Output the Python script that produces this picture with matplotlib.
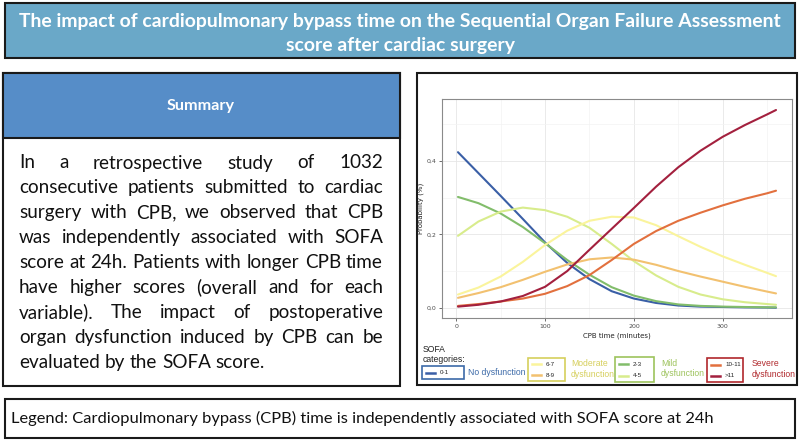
import matplotlib
matplotlib.use("Agg")
import matplotlib.pyplot as plt
from matplotlib.patches import Rectangle

# ---- data ----
cpb_time = [2, 25, 50, 75, 100, 125, 150, 175, 200, 225, 250, 275, 300, 325, 350, 360]
sofa_0_1 = [0.424, 0.367, 0.305, 0.242, 0.178, 0.122, 0.078, 0.045, 0.025, 0.013, 0.006, 0.003, 0.002, 0.001, 0.0005, 0.0]
sofa_2_3 = [0.302, 0.285, 0.257, 0.22, 0.176, 0.13, 0.09, 0.056, 0.033, 0.018, 0.009, 0.005, 0.003, 0.002, 0.001, 0.001]
sofa_4_5 = [0.196, 0.235, 0.262, 0.273, 0.266, 0.248, 0.218, 0.174, 0.127, 0.088, 0.057, 0.036, 0.023, 0.015, 0.010, 0.008]
sofa_6_7 = [0.036, 0.055, 0.085, 0.125, 0.171, 0.21, 0.237, 0.248, 0.246, 0.225, 0.195, 0.166, 0.14, 0.117, 0.095, 0.086]
sofa_8_9 = [0.027, 0.04, 0.056, 0.076, 0.098, 0.118, 0.132, 0.137, 0.131, 0.117, 0.10, 0.085, 0.071, 0.057, 0.044, 0.039]
sofa_10_11 = [0.005, 0.01, 0.017, 0.025, 0.038, 0.059, 0.089, 0.13, 0.174, 0.209, 0.237, 0.259, 0.279, 0.297, 0.312, 0.319]
sofa_gt11 = [0.003, 0.008, 0.017, 0.032, 0.057, 0.10, 0.158, 0.215, 0.272, 0.33, 0.383, 0.428, 0.466, 0.498, 0.527, 0.539]

categories = ["0-1", "2-3", "4-5", "6-7", "8-9", "10-11", ">11"]
series = [sofa_0_1, sofa_2_3, sofa_4_5, sofa_6_7, sofa_8_9, sofa_10_11, sofa_gt11]
line_colors = ["#3a5fa6", "#82bd6b", "#d8ec8c", "#faf49c", "#f2c170", "#e2703e", "#a3203e"]

x_ticks = [0, 100, 200, 300]
y_ticks = [0.0, 0.2, 0.4]
y_tick_labels = ["0,0", "0,2", "0,4"]

title_lines = ["The impact of cardiopulmonary bypass time on the Sequential Organ Failure Assessment",
               "score after cardiac surgery"]
summary_lines = ["In a retrospective study of 1032",
                 "consecutive patients submitted to cardiac",
                 "surgery with CPB, we observed that CPB",
                 "was independently associated with SOFA",
                 "score at 24h. Patients with longer CPB time",
                 "have higher scores (overall and for each",
                 "variable). The impact of postoperative",
                 "organ dysfunction induced by CPB can be",
                 "evaluated by the SOFA score."]
legend_line = "Legend: Cardiopulmonary bypass (CPB) time is independently associated with SOFA score at 24h"

W, H = 800, 442
fig = plt.figure(figsize=(8, 4.42), dpi=100)
bg = fig.add_axes([0, 0, 1, 1])
bg.set_xlim(0, W)
bg.set_ylim(H, 0)
bg.axis("off")
renderer = fig.canvas.get_renderer()


def width_of(t):
    return t.get_window_extent(renderer).width


def fit_text(x, y, s, target, **kw):
    t = bg.text(x, y, s, fontsize=10, **kw)
    t.set_fontsize(10 * target / width_of(t))
    return t


def box(x0, y0, x1, y1, fc, ec="#1a1a1a", lw=1.5):
    bg.add_patch(Rectangle((x0, y0), x1 - x0, y1 - y0, facecolor=fc, edgecolor=ec, lw=lw))


# title
box(5, 3, 795, 58, "#6aa8c8")
t1 = fit_text(400, 22, title_lines[0], 765, ha="center", va="center", color="white",
              family="Lato", weight="bold")
bg.text(400, 45, title_lines[1], ha="center", va="center", color="white",
        family="Lato", weight="bold", fontsize=t1.get_fontsize())

# summary panel
box(3, 73, 400, 386, "white")
box(3, 73, 400, 138, "#568dc8")
fit_text(201, 106, "Summary", 68, ha="center", va="center", color="white",
         family="Lato", weight="bold")

left, right = 19, 383
probe = [bg.text(0, 0, ln, fontsize=10, family="Lato") for ln in summary_lines[:-1]]
maxw = max(width_of(p) for p in probe)
for p in probe:
    p.remove()
fs = 10 * (right - left) / maxw * 0.99
sp1 = bg.text(0, 0, "a a", fontsize=fs, family="Lato")
sp2 = bg.text(0, 0, "aa", fontsize=fs, family="Lato")
space_w = width_of(sp1) - width_of(sp2)
sp1.remove()
sp2.remove()
y = 163
for i, ln in enumerate(summary_lines):
    words = ln.split()
    objs = [bg.text(0, y, w, fontsize=fs, family="Lato", va="center", color="#111111") for w in words]
    widths = [width_of(o) for o in objs]
    if i < len(summary_lines) - 1 and len(words) > 1:
        gap = (right - left - sum(widths)) / (len(words) - 1)
    else:
        gap = space_w
    xx = left
    for o, w in zip(objs, widths):
        o.set_x(xx)
        xx += w + gap
    y += 24.9

# chart panel
box(417, 73, 797, 385, "white")

# bottom legend box
box(5, 399, 795, 438, "white")
fit_text(11, 418, legend_line, 702, ha="left", va="center", color="#111111", family="Lato")

# ---- probability plot ----
ax = fig.add_axes([442 / W, 1 - 318 / H, 350 / W, 219 / H])
for vals, col in zip(series, line_colors):
    ax.plot(cpb_time, vals, color=col, lw=1.5, solid_capstyle="round", solid_joinstyle="round")
ax.set_xlim(-16, 378)
ax.set_ylim(-0.028, 0.569)
ax.set_xticks(x_ticks)
ax.set_xticks([50, 150, 250, 350], minor=True)
ax.set_yticks(y_ticks)
ax.set_yticklabels(y_tick_labels)
ax.set_yticks([0.1, 0.3, 0.5], minor=True)
ax.grid(which="major", color="#e6e6e6", lw=0.6)
ax.grid(which="minor", color="#f3f3f3", lw=0.5)
ax.set_axisbelow(True)
ax.tick_params(which="major", length=2, width=0.5, color="#333333", labelsize=4.5,
               labelcolor="#4d4d4d", pad=2)
ax.tick_params(which="minor", length=0)
for sp in ax.spines.values():
    sp.set_color("#8a8a8a")
    sp.set_linewidth(0.8)
ax.set_xlabel("CPB time (minutes)", fontsize=5, color="#222222", labelpad=3)
ax.set_ylabel("Probability (%)", fontsize=5, color="#222222", labelpad=1.5)

# ---- category legend (drawn in pixel space) ----
lf = "Liberation Sans"
bg.text(423, 350, "SOFA", fontsize=6.2, family=lf, va="center", color="#222222")
bg.text(423, 359.5, "categories:", fontsize=6.2, family=lf, va="center", color="#222222")

groups = [
    # box x0, x1, y0, y1, category indices, label, label colour, label x
    (422, 464, 366, 379, [0], ["No dysfunction"], "#3c6aa8", 468),
    (528, 565, 358, 381, [3, 4], ["Moderate", "dysfunction"], "#d6cf5c", 571),
    (615, 654, 357, 382, [1, 2], ["Mild", "dysfunction"], "#9dc35c", 661),
    (707, 743, 358, 382, [5, 6], ["Severe", "dysfunction"], "#b0282c", 752),
]
for x0, x1, y0, y1, idx, label, lcol, lx in groups:
    box(x0, y0, x1, y1, "white", ec=lcol, lw=1.2)
    n = len(idx)
    for k, ci in enumerate(idx):
        yy = (y0 + y1) / 2 if n == 1 else y0 + (y1 - y0) * (0.28 + 0.46 * k)
        bg.plot([x0 + 4, x0 + 13], [yy, yy], color=line_colors[ci], lw=1.8)
        bg.text(x0 + 18, yy, categories[ci], fontsize=4.5, family=lf, va="center", color="#222222")
    if len(label) == 1:
        bg.text(lx, (y0 + y1) / 2, label[0], fontsize=6.2, family=lf, va="center", color=lcol)
    else:
        bg.text(lx, y0 + 6, label[0], fontsize=6.2, family=lf, va="center", color=lcol)
        bg.text(lx, y0 + 16.5, label[1], fontsize=6.2, family=lf, va="center", color=lcol)

fig.savefig("out.png", dpi=100)
